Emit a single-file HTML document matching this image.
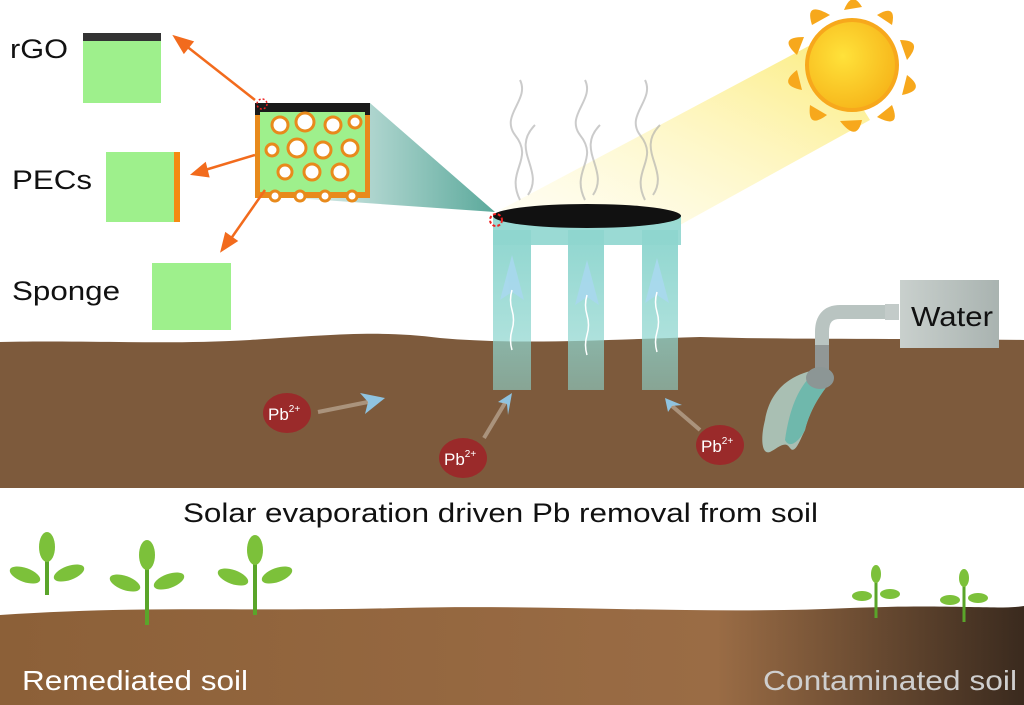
<!DOCTYPE html>
<html><head><meta charset="utf-8"><style>
html,body{margin:0;padding:0;background:#fff}
svg{display:block}
text{font-family:"Liberation Sans",Arial,sans-serif}
</style></head><body>
<svg width="1024" height="705" viewBox="0 0 1024 705" xmlns="http://www.w3.org/2000/svg">
<defs>
<linearGradient id="beam" x1="1" y1="0" x2="0" y2="1">
<stop offset="0" stop-color="#fbe96a" stop-opacity="0.9"/><stop offset="1" stop-color="#fff8c8" stop-opacity="0.2"/></linearGradient>
<linearGradient id="cone" x1="1" y1="0" x2="0" y2="0">
<stop offset="0" stop-color="#3e9a8a"/><stop offset="1" stop-color="#3e9a8a" stop-opacity="0"/></linearGradient>
<linearGradient id="soil2" x1="0" y1="0" x2="1" y2="0">
<stop offset="0" stop-color="#8c6038"/><stop offset="0.7" stop-color="#9a6c45"/><stop offset="1" stop-color="#3a2a1e"/></linearGradient>
<linearGradient id="leg" x1="0" y1="0" x2="0" y2="1">
<stop offset="0" stop-color="#8fd6cf"/><stop offset="1" stop-color="#8fd6cf" stop-opacity="0.6"/></linearGradient>
<radialGradient id="sun" cx="0.4" cy="0.4" r="0.6"><stop offset="0" stop-color="#ffe23a"/><stop offset="1" stop-color="#f7b81c"/></radialGradient>
<linearGradient id="tank" x1="0" y1="0" x2="1" y2="0"><stop offset="0" stop-color="#c9d0cd"/><stop offset="1" stop-color="#a9b3b0"/></linearGradient>
</defs>
<polygon points="500,210 820,40 870,120 680,225" fill="url(#beam)"/>
<g transform="translate(852,65)">
<g fill="#f7a81c">
<path d="M-8,-55 Q0,-75 10,-58 Z"/><path d="M25,-50 Q45,-62 40,-40 Z"/><path d="M48,-25 Q72,-25 55,-5 Z"/><path d="M55,10 Q75,25 50,30 Z"/>
<path d="M40,40 Q50,65 25,52 Z"/><path d="M10,55 Q5,78 -12,56 Z"/><path d="M-25,50 Q-45,65 -42,40 Z"/><path d="M-50,25 Q-75,20 -55,5 Z"/>
<path d="M-55,-10 Q-75,-28 -48,-28 Z"/><path d="M-40,-40 Q-48,-65 -22,-50 Z"/>
</g>
<circle r="45" fill="url(#sun)" stroke="#f7a81c" stroke-width="4"/>
</g>
<g fill="none" stroke="#aaa" stroke-width="2" opacity="0.6">
<path d="M520,200 C505,170 535,160 515,135 C500,115 530,100 520,80"/><path d="M528,195 C545,170 510,150 535,125"/>
<path d="M585,200 C570,170 600,160 580,135 C565,115 595,100 585,80"/><path d="M593,195 C610,170 575,150 600,125"/>
<path d="M645,200 C630,170 660,160 640,135 C625,115 655,100 645,80"/><path d="M653,195 C670,170 635,150 660,125"/>
</g>
<path d="M0,342 C100,340 160,345 250,340 C330,335 380,330 440,338 C520,345 600,340 700,337 C800,340 900,338 1024,340 L1024,488 L0,488 Z" fill="#7d5a3c"/>
<path d="M0,615 C150,605 250,612 400,608 C550,604 700,615 850,608 C950,604 1000,610 1024,606 L1024,705 L0,705 Z" fill="url(#soil2)"/>
<polygon points="370,103 370,185 250,195 495,212" fill="url(#cone)" opacity="0.85"/>
<rect x="493" y="215" width="188" height="30" fill="#8fd6cf" opacity="0.9"/>
<rect x="493" y="230" width="38" height="160" fill="url(#leg)"/>
<rect x="568" y="230" width="36" height="160" fill="url(#leg)"/>
<rect x="642" y="230" width="36" height="160" fill="url(#leg)"/>
<ellipse cx="587" cy="216" rx="94" ry="12" fill="#111"/>
<g fill="#a8d8ee" opacity="0.9">
<path d="M512,255 L500,300 L512,292 L524,300 Z"/><path d="M587,260 L575,305 L587,297 L599,305 Z"/><path d="M657,258 L645,303 L657,295 L669,303 Z"/>
</g>
<g stroke="#fff" stroke-width="1.5" fill="none">
<path d="M512,290 q-3,10 0,20 q3,10 0,20 q-3,10 0,20"/><path d="M587,295 q-3,10 0,20 q3,10 0,20 q-3,10 0,20"/><path d="M657,292 q-3,10 0,20 q3,10 0,20 q-3,10 0,20"/>
</g>
<circle cx="496" cy="220" r="6" fill="none" stroke="#e22" stroke-width="2" stroke-dasharray="3 2"/>
<rect x="255" y="103" width="115" height="95" fill="#e88a1c"/>
<rect x="255" y="103" width="115" height="12" fill="#1a1a1a"/>
<rect x="260" y="112" width="105" height="80" fill="#9ef08c"/>
<g fill="#fff" stroke="#e88a1c" stroke-width="3">
<circle cx="280" cy="125" r="8"/><circle cx="305" cy="122" r="9"/><circle cx="333" cy="125" r="8"/><circle cx="355" cy="122" r="6"/>
<circle cx="272" cy="150" r="6"/><circle cx="297" cy="148" r="9"/><circle cx="323" cy="150" r="8"/><circle cx="350" cy="148" r="8"/>
<circle cx="285" cy="172" r="7"/><circle cx="312" cy="172" r="8"/><circle cx="340" cy="172" r="8"/>
<circle cx="275" cy="196" r="5"/><circle cx="300" cy="196" r="5"/><circle cx="325" cy="196" r="5"/><circle cx="352" cy="196" r="5"/>
</g>
<circle cx="262" cy="104" r="5" fill="none" stroke="#e22" stroke-width="1.5" stroke-dasharray="2 2"/>
<g stroke="#f26b1d" stroke-width="2.5" fill="#f26b1d">
<line x1="255" y1="100" x2="185" y2="45"/><polygon points="175,37 192,42 184,52"/>
<line x1="255" y1="155" x2="205" y2="170"/><polygon points="193,174 205,164 208,176"/>
<line x1="265" y1="190" x2="230" y2="240"/><polygon points="222,250 226,234 236,241"/>
</g>
<rect x="83" y="33" width="78" height="70" fill="#9ef08c"/><rect x="83" y="33" width="78" height="8" fill="#333"/>
<rect x="106" y="152" width="74" height="70" fill="#9ef08c"/><rect x="174" y="152" width="6" height="70" fill="#f58a12"/>
<rect x="152" y="263" width="79" height="67" fill="#9ef08c"/>
<text x="10" y="58" font-size="27" fill="#111" textLength="58" lengthAdjust="spacingAndGlyphs">rGO</text>
<text x="12" y="189" font-size="27" fill="#111" textLength="80" lengthAdjust="spacingAndGlyphs">PECs</text>
<text x="12" y="300" font-size="27" fill="#111" textLength="108" lengthAdjust="spacingAndGlyphs">Sponge</text>
<path d="M885,312 L840,312 Q822,312 822,332 L822,375" stroke="#b9c4c1" stroke-width="14" fill="none"/>
<path d="M822,345 L822,375" stroke="#555" stroke-width="14" opacity="0.4" fill="none"/>
<rect x="885" y="304" width="14" height="16" fill="#c3cbc9"/>
<rect x="900" y="280" width="99" height="68" fill="url(#tank)"/>
<text x="911" y="326" font-size="28" fill="#111" textLength="82" lengthAdjust="spacingAndGlyphs">Water</text>
<path d="M815,370 C790,375 770,390 765,420 C760,440 762,455 770,452 C778,448 785,440 790,448 C795,455 800,440 805,430 C810,410 820,395 828,385 Z" fill="#a9bfb3"/>
<path d="M815,372 C800,385 790,405 785,440 C790,450 800,440 805,430 C810,410 820,395 828,385 Z" fill="#6fb8ac"/>
<ellipse cx="820" cy="378" rx="14" ry="11" fill="#8c9695"/>
<g fill="#9a2a2a"><ellipse cx="287" cy="413" rx="24" ry="20"/><ellipse cx="463" cy="458" rx="24" ry="20"/><ellipse cx="720" cy="445" rx="24" ry="20"/></g>
<g fill="#fff" font-size="17"><text x="268" y="420">Pb<tspan font-size="10" dy="-8">2+</tspan></text>
<text x="444" y="465">Pb<tspan font-size="10" dy="-8">2+</tspan></text>
<text x="701" y="452">Pb<tspan font-size="10" dy="-8">2+</tspan></text></g>
<g fill="#8fc3e0">
<polygon points="385,398 360,393 368,402 365,414"/><polygon points="512,393 498,402 507,404 508,415"/><polygon points="665,398 668,412 672,406 682,405"/>
</g>
<g stroke="#c9b9a8" stroke-width="4" opacity="0.6"><line x1="318" y1="412" x2="368" y2="402"/><line x1="484" y1="438" x2="505" y2="403"/><line x1="700" y1="430" x2="672" y2="406"/></g>
<text x="183" y="522" font-size="27" fill="#111" textLength="635" lengthAdjust="spacingAndGlyphs">Solar evaporation driven Pb removal from soil</text>
<g stroke="#5aa52a" stroke-width="4" fill="#7cc13a">
<g transform="translate(47,595)"><line x1="0" y1="0" x2="0" y2="-60"/><ellipse cx="0" cy="-48" rx="8" ry="15" stroke="none"/><ellipse cx="-22" cy="-20" rx="16" ry="7" transform="rotate(20 -22 -20)" stroke="none"/><ellipse cx="22" cy="-22" rx="16" ry="7" transform="rotate(-20 22 -22)" stroke="none"/></g>
<g transform="translate(147,625)"><line x1="0" y1="0" x2="0" y2="-65"/><ellipse cx="0" cy="-70" rx="8" ry="15" stroke="none"/><ellipse cx="-22" cy="-42" rx="16" ry="7" transform="rotate(20 -22 -42)" stroke="none"/><ellipse cx="22" cy="-44" rx="16" ry="7" transform="rotate(-20 22 -44)" stroke="none"/></g>
<g transform="translate(255,615)"><line x1="0" y1="0" x2="0" y2="-62"/><ellipse cx="0" cy="-65" rx="8" ry="15" stroke="none"/><ellipse cx="-22" cy="-38" rx="16" ry="7" transform="rotate(20 -22 -38)" stroke="none"/><ellipse cx="22" cy="-40" rx="16" ry="7" transform="rotate(-20 22 -40)" stroke="none"/></g>
<g transform="translate(876,618)" stroke-width="3"><line x1="0" y1="0" x2="0" y2="-40"/><ellipse cx="0" cy="-44" rx="5" ry="9" stroke="none"/><ellipse cx="-14" cy="-22" rx="10" ry="5" stroke="none"/><ellipse cx="14" cy="-24" rx="10" ry="5" stroke="none"/></g>
<g transform="translate(964,622)" stroke-width="3"><line x1="0" y1="0" x2="0" y2="-40"/><ellipse cx="0" cy="-44" rx="5" ry="9" stroke="none"/><ellipse cx="-14" cy="-22" rx="10" ry="5" stroke="none"/><ellipse cx="14" cy="-24" rx="10" ry="5" stroke="none"/></g>
</g>
<text x="22" y="690" font-size="28" fill="#fff" textLength="226" lengthAdjust="spacingAndGlyphs">Remediated soil</text>
<text x="763" y="690" font-size="28" fill="#cfcfcf" textLength="254" lengthAdjust="spacingAndGlyphs">Contaminated soil</text>
</svg>
</body></html>
